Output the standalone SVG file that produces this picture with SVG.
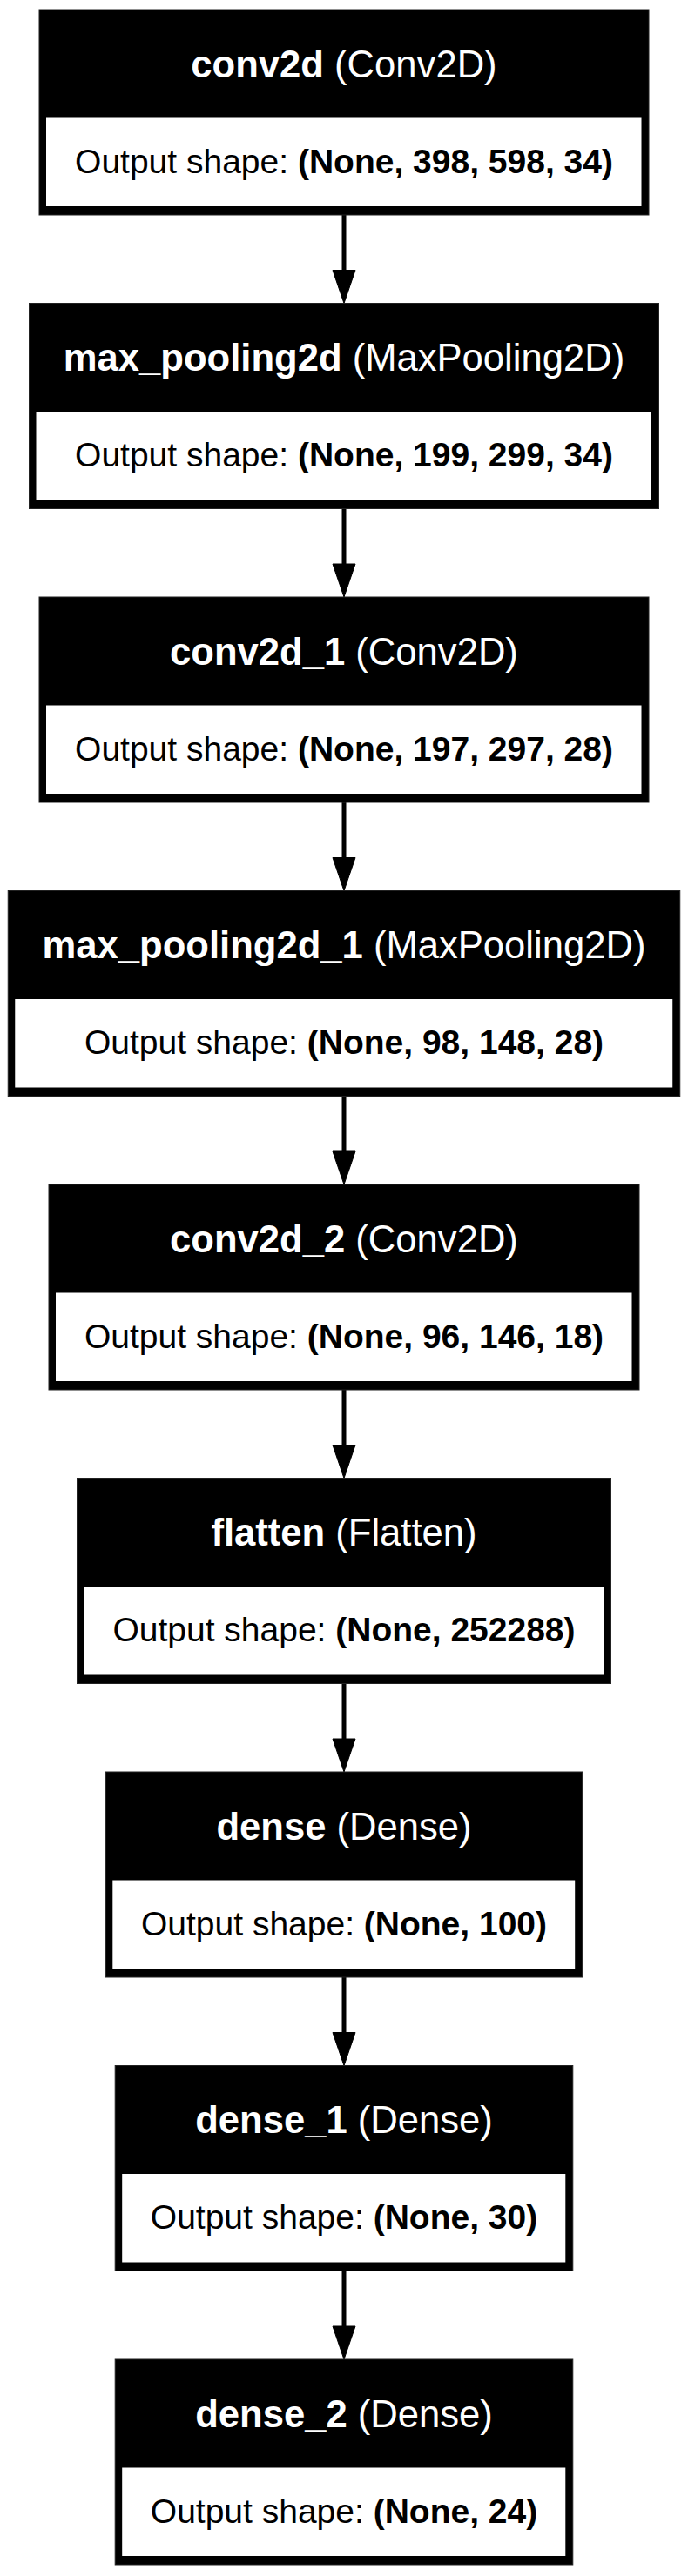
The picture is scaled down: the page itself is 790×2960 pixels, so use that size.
<svg xmlns="http://www.w3.org/2000/svg" width="790" height="2960" viewBox="0 0 790 2960">
<style>
.outer{fill:#000;stroke:#222;stroke-width:1}
.inner{fill:#fff}
.title{font-family:"Liberation Sans",Arial,Helvetica,sans-serif;font-size:43.6px;fill:#fff;text-anchor:middle}
.out{font-family:"Liberation Sans",Arial,Helvetica,sans-serif;font-size:39px;fill:#000;text-anchor:middle}
.b{font-weight:bold}
.edge{stroke:#000;stroke-width:5;fill:none}
.head{fill:#000;stroke:#000;stroke-width:1}
</style>
<rect x="0" y="0" width="790" height="2960" fill="#fff"/>
<g id="edges">
<line class="edge" x1="395" y1="247" x2="395" y2="311"/><polygon class="head" points="382,310.5 408,310.5 395,348.5"/>
<line class="edge" x1="395" y1="584.5" x2="395" y2="649"/><polygon class="head" points="382,648 408,648 395,686"/>
<line class="edge" x1="395" y1="922" x2="395" y2="986.5"/><polygon class="head" points="382,985.5 408,985.5 395,1023.5"/>
<line class="edge" x1="395" y1="1259.5" x2="395" y2="1324"/><polygon class="head" points="382,1323 408,1323 395,1361"/>
<line class="edge" x1="395" y1="1597" x2="395" y2="1661.5"/><polygon class="head" points="382,1660.5 408,1660.5 395,1698.5"/>
<line class="edge" x1="395" y1="1934.5" x2="395" y2="1999"/><polygon class="head" points="382,1998 408,1998 395,2036"/>
<line class="edge" x1="395" y1="2272" x2="395" y2="2336.5"/><polygon class="head" points="382,2335.5 408,2335.5 395,2373.5"/>
<line class="edge" x1="395" y1="2609.5" x2="395" y2="2674"/><polygon class="head" points="382,2673 408,2673 395,2711"/>
</g>
<g id="conv2d">
<rect class="outer" x="45" y="11" width="700" height="236"/>
<rect class="inner" x="53" y="135.5" width="683.5" height="101.5"/>
<text class="title" x="395" y="88.5"><tspan class="b">conv2d</tspan> (Conv2D)</text>
<text class="out" x="395" y="198.5">Output shape: <tspan class="b">(None, 398, 598, 34)</tspan></text>
</g>
<g id="max_pooling2d">
<rect class="outer" x="33.5" y="348.5" width="723" height="236"/>
<rect class="inner" x="41.5" y="473" width="706.5" height="101.5"/>
<text class="title" x="395" y="426"><tspan class="b">max_pooling2d</tspan> (MaxPooling2D)</text>
<text class="out" x="395" y="536">Output shape: <tspan class="b">(None, 199, 299, 34)</tspan></text>
</g>
<g id="conv2d_1">
<rect class="outer" x="45" y="686" width="700" height="236"/>
<rect class="inner" x="53" y="810.5" width="683.5" height="101.5"/>
<text class="title" x="395" y="763.5"><tspan class="b">conv2d_1</tspan> (Conv2D)</text>
<text class="out" x="395" y="873.5">Output shape: <tspan class="b">(None, 197, 297, 28)</tspan></text>
</g>
<g id="max_pooling2d_1">
<rect class="outer" x="9.25" y="1023.5" width="771.5" height="236"/>
<rect class="inner" x="17.25" y="1148" width="755" height="101.5"/>
<text class="title" x="395" y="1101"><tspan class="b">max_pooling2d_1</tspan> (MaxPooling2D)</text>
<text class="out" x="395" y="1211">Output shape: <tspan class="b">(None, 98, 148, 28)</tspan></text>
</g>
<g id="conv2d_2">
<rect class="outer" x="56" y="1361" width="678" height="236"/>
<rect class="inner" x="64" y="1485.5" width="661.5" height="101.5"/>
<text class="title" x="395" y="1438.5"><tspan class="b">conv2d_2</tspan> (Conv2D)</text>
<text class="out" x="395" y="1548.5">Output shape: <tspan class="b">(None, 96, 146, 18)</tspan></text>
</g>
<g id="flatten">
<rect class="outer" x="88.5" y="1698.5" width="613" height="236"/>
<rect class="inner" x="96.5" y="1823" width="596.5" height="101.5"/>
<text class="title" x="395" y="1776"><tspan class="b">flatten</tspan> (Flatten)</text>
<text class="out" x="395" y="1886">Output shape: <tspan class="b">(None, 252288)</tspan></text>
</g>
<g id="dense">
<rect class="outer" x="121.3" y="2036" width="547.4" height="236"/>
<rect class="inner" x="129.3" y="2160.5" width="530.9" height="101.5"/>
<text class="title" x="395" y="2113.5"><tspan class="b">dense</tspan> (Dense)</text>
<text class="out" x="395" y="2223.5">Output shape: <tspan class="b">(None, 100)</tspan></text>
</g>
<g id="dense_1">
<rect class="outer" x="132.2" y="2373.5" width="525.6" height="236"/>
<rect class="inner" x="140.2" y="2498" width="509.1" height="101.5"/>
<text class="title" x="395" y="2451"><tspan class="b">dense_1</tspan> (Dense)</text>
<text class="out" x="395" y="2561">Output shape: <tspan class="b">(None, 30)</tspan></text>
</g>
<g id="dense_2">
<rect class="outer" x="132.2" y="2711" width="525.6" height="236"/>
<rect class="inner" x="140.2" y="2835.5" width="509.1" height="101.5"/>
<text class="title" x="395" y="2788.5"><tspan class="b">dense_2</tspan> (Dense)</text>
<text class="out" x="395" y="2898.5">Output shape: <tspan class="b">(None, 24)</tspan></text>
</g>
</svg>
